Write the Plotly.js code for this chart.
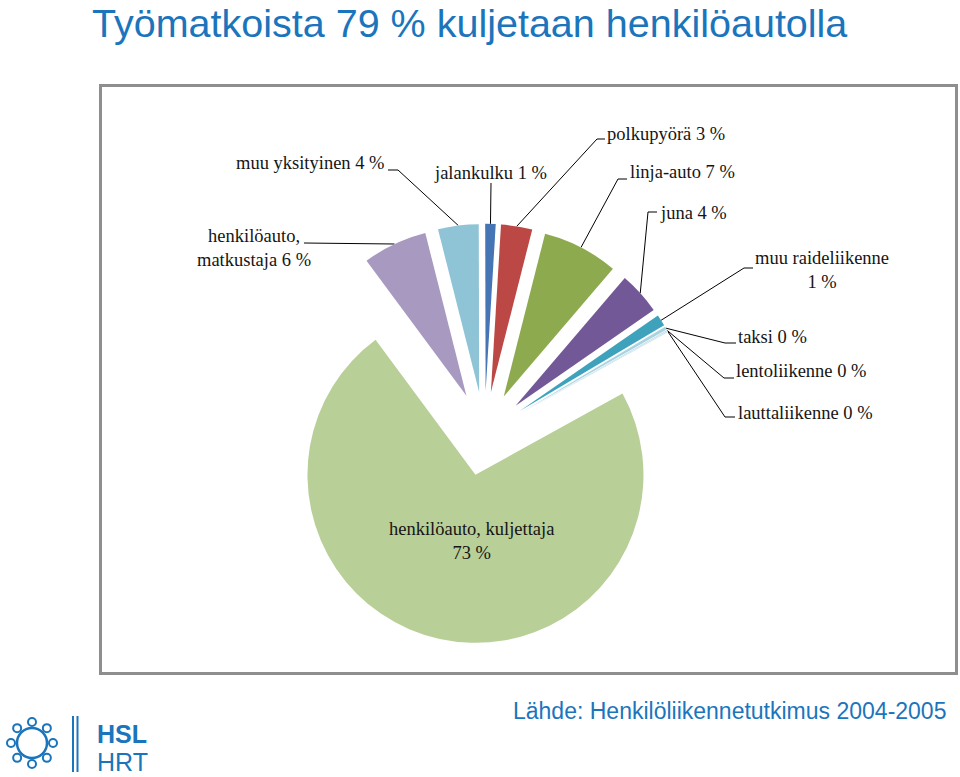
<!DOCTYPE html>
<html>
<head>
<meta charset="utf-8">
<script src="https://cdn.plot.ly/plotly-3.0.1.min.js"></script>
<style>
  html, body { margin: 0; padding: 0; background: #ffffff; }
  #chart { width: 960px; height: 777px; }
</style>
</head>
<body>
<div id="chart"></div>
<script>
// ---------- DATA ----------
const categories = [
  'henkilöauto, matkustaja', 'muu yksityinen', 'jalankulku', 'polkupyörä',
  'linja-auto', 'juna', 'muu raideliikenne', 'taksi', 'lentoliikenne',
  'lauttaliikenne', 'henkilöauto, kuljettaja'
];
const shares = [6.2, 3.9, 1.0, 3.0, 7.3, 4.1, 1.1, 0.3, 0.1, 0.1, 72.9];
const pctLabels = ['6 %', '4 %', '1 %', '3 %', '7 %', '4 %', '1 %', '0 %', '0 %', '0 %', '73 %'];

const titleText = 'Työmatkoista 79 % kuljetaan henkilöautolla';
const sourceText = 'Lähde: Henkilöliikennetutkimus 2004-2005';

// ---------- STYLE / LAYOUT ----------
const W = 960, H = 777;
const sliceColors = ['#A899C1', '#8FC3D6', '#4575B4', '#BC4845', '#8DAA4F',
                     '#725897', '#3FA2BD', '#A9D3E0', '#C4E1EA', '#C4E1EA', '#B9CF98'];
const pullFrac = 0.25;
const rotationDeg = -36.5;
const pieCx = 484.4, pieCy = 433.8, pieBox = 420;   // pixel geometry of pie domain
const blue = '#1B75BC';
const serif = 'Liberation Serif, Times New Roman, serif';
const sans = 'Liberation Sans, Arial, sans-serif';

// line break style per label: 'name' = break after comma in name, 'pct' = break before percent
const labelBreak = ['name', null, null, null, null, null, 'pct', null, null, null, 'pct'];
// label placement (pixels) and alignment
const labelPos = [
  {x: 254, y: 248, xa: 'center'},
  {x: 387, y: 163, xa: 'right'},
  {x: 490, y: 173, xa: 'center'},
  {x: 605, y: 134, xa: 'left'},
  {x: 628, y: 172, xa: 'left'},
  {x: 658, y: 213, xa: 'left'},
  {x: 822, y: 270, xa: 'center'},
  {x: 736, y: 337, xa: 'left'},
  {x: 734, y: 371, xa: 'left'},
  {x: 736, y: 413, xa: 'left'},
  {x: 471, y: 541, xa: 'center'}
];
// leader line start + elbow (pixels); null = no leader
const leaderStart = [
  [[304, 243], [304, 243]],
  [[388, 170], [398, 170]],
  [[491, 183], [491, 183]],
  [[605, 139], [597, 139]],
  [[627, 179], [618, 179]],
  [[657, 212], [648, 212]],
  [[753, 268], [744, 268]],
  [[736, 343], [725, 343]],
  [[734, 378], [724, 378]],
  [[735, 417], [725, 417]],
  null
];

// ---------- GEOMETRY (same formulas as Plotly pie) ----------
const domX = [(pieCx - pieBox / 2) / W, (pieCx + pieBox / 2) / W];
const domY = [1 - (pieCy + pieBox / 2) / H, 1 - (pieCy - pieBox / 2) / H];
const rPie = pieBox / (2 + 2 * pullFrac);
const total = shares.reduce((a, b) => a + b, 0);

let cum = 0;
const anchors = shares.map(v => {
  const a0 = rotationDeg + cum / total * 360;
  cum += v;
  const a1 = rotationDeg + cum / total * 360;
  const mid = (a0 + a1) / 2 * Math.PI / 180;
  const dist = rPie * (1 + pullFrac);
  return [pieCx + dist * Math.sin(mid), pieCy - dist * Math.cos(mid)];
});

const lx = [], ly = [];
leaderStart.forEach((ls, i) => {
  if (!ls) return;
  lx.push(ls[0][0], ls[1][0], anchors[i][0], null);
  ly.push(ls[0][1], ls[1][1], anchors[i][1], null);
});

function labelText(i) {
  const name = categories[i], pct = pctLabels[i];
  if (labelBreak[i] === 'name') return name.replace(', ', ',<br>') + ' ' + pct;
  if (labelBreak[i] === 'pct') return name + '<br>' + pct;
  return name + ' ' + pct;
}

const annotations = categories.map((c, i) => ({
  xref: 'x', yref: 'y', x: labelPos[i].x, y: labelPos[i].y,
  xanchor: labelPos[i].xa, yanchor: 'middle', align: 'center',
  text: labelText(i), showarrow: false,
  font: {family: serif, size: 18.5, color: '#151515'}
}));

annotations.push({
  xref: 'x', yref: 'y', x: 91, y: 0, xanchor: 'left', yanchor: 'top', borderpad: 0,
  text: titleText, showarrow: false,
  font: {family: sans, size: 39.5, color: blue}
});
annotations.push({
  xref: 'x', yref: 'y', x: 948, y: 711, xanchor: 'right', yanchor: 'middle',
  text: sourceText, showarrow: false,
  font: {family: sans, size: 23, color: blue}
});
annotations.push({
  xref: 'x', yref: 'y', x: 95, y: 734, xanchor: 'left', yanchor: 'middle',
  text: '<b>HSL</b>', showarrow: false,
  font: {family: sans, size: 25, color: blue}
});
annotations.push({
  xref: 'x', yref: 'y', x: 95, y: 762, xanchor: 'left', yanchor: 'middle',
  text: 'HRT', showarrow: false,
  font: {family: sans, size: 25, color: blue}
});

// ---------- SHAPES (frame + logo) ----------
const shapes = [
  {type: 'rect', xref: 'x', yref: 'y', x0: 100.5, y0: 85.5, x1: 956.5, y1: 673.5,
   line: {color: '#8E8E8E', width: 3}, fillcolor: 'rgba(0,0,0,0)', layer: 'below'},
  {type: 'line', xref: 'x', yref: 'y', x0: 73, y0: 716, x1: 73, y1: 772, line: {color: blue, width: 2}},
  {type: 'line', xref: 'x', yref: 'y', x0: 77.5, y0: 716, x1: 77.5, y1: 772, line: {color: blue, width: 2}},
  {type: 'circle', xref: 'x', yref: 'y', x0: 32 - 15, y0: 743 - 15, x1: 32 + 15, y1: 743 + 15,
   line: {color: blue, width: 2.5}}
];
for (let k = 0; k < 8; k++) {
  const a = k * Math.PI / 4;
  const cx = 32 + 21 * Math.sin(a), cy = 743 - 21 * Math.cos(a);
  shapes.push({type: 'circle', xref: 'x', yref: 'y', x0: cx - 4, y0: cy - 4, x1: cx + 4, y1: cy + 4,
               line: {color: blue, width: 2}, fillcolor: '#ffffff'});
}

// ---------- TRACES ----------
const pieTrace = {
  type: 'pie', values: shares, labels: categories, sort: false,
  direction: 'clockwise', rotation: rotationDeg,
  pull: shares.map(() => pullFrac),
  marker: {colors: sliceColors, line: {width: 0}},
  textinfo: 'none', hoverinfo: 'none', showlegend: false,
  domain: {x: domX, y: domY}
};
const leaderTrace = {
  type: 'scatter', mode: 'lines', x: lx, y: ly, xaxis: 'x', yaxis: 'y',
  line: {color: '#000000', width: 1}, hoverinfo: 'skip', showlegend: false
};

const layout = {
  width: W, height: H,
  margin: {l: 0, r: 0, t: 0, b: 0},
  paper_bgcolor: '#ffffff', plot_bgcolor: 'rgba(0,0,0,0)',
  showlegend: false,
  xaxis: {range: [0, W], visible: false, fixedrange: true, domain: [0, 1]},
  yaxis: {range: [H, 0], visible: false, fixedrange: true, domain: [0, 1]},
  annotations: annotations,
  shapes: shapes
};

Plotly.newPlot('chart', [leaderTrace, pieTrace], layout, {displayModeBar: false, staticPlot: true});
</script>
</body>
</html>
